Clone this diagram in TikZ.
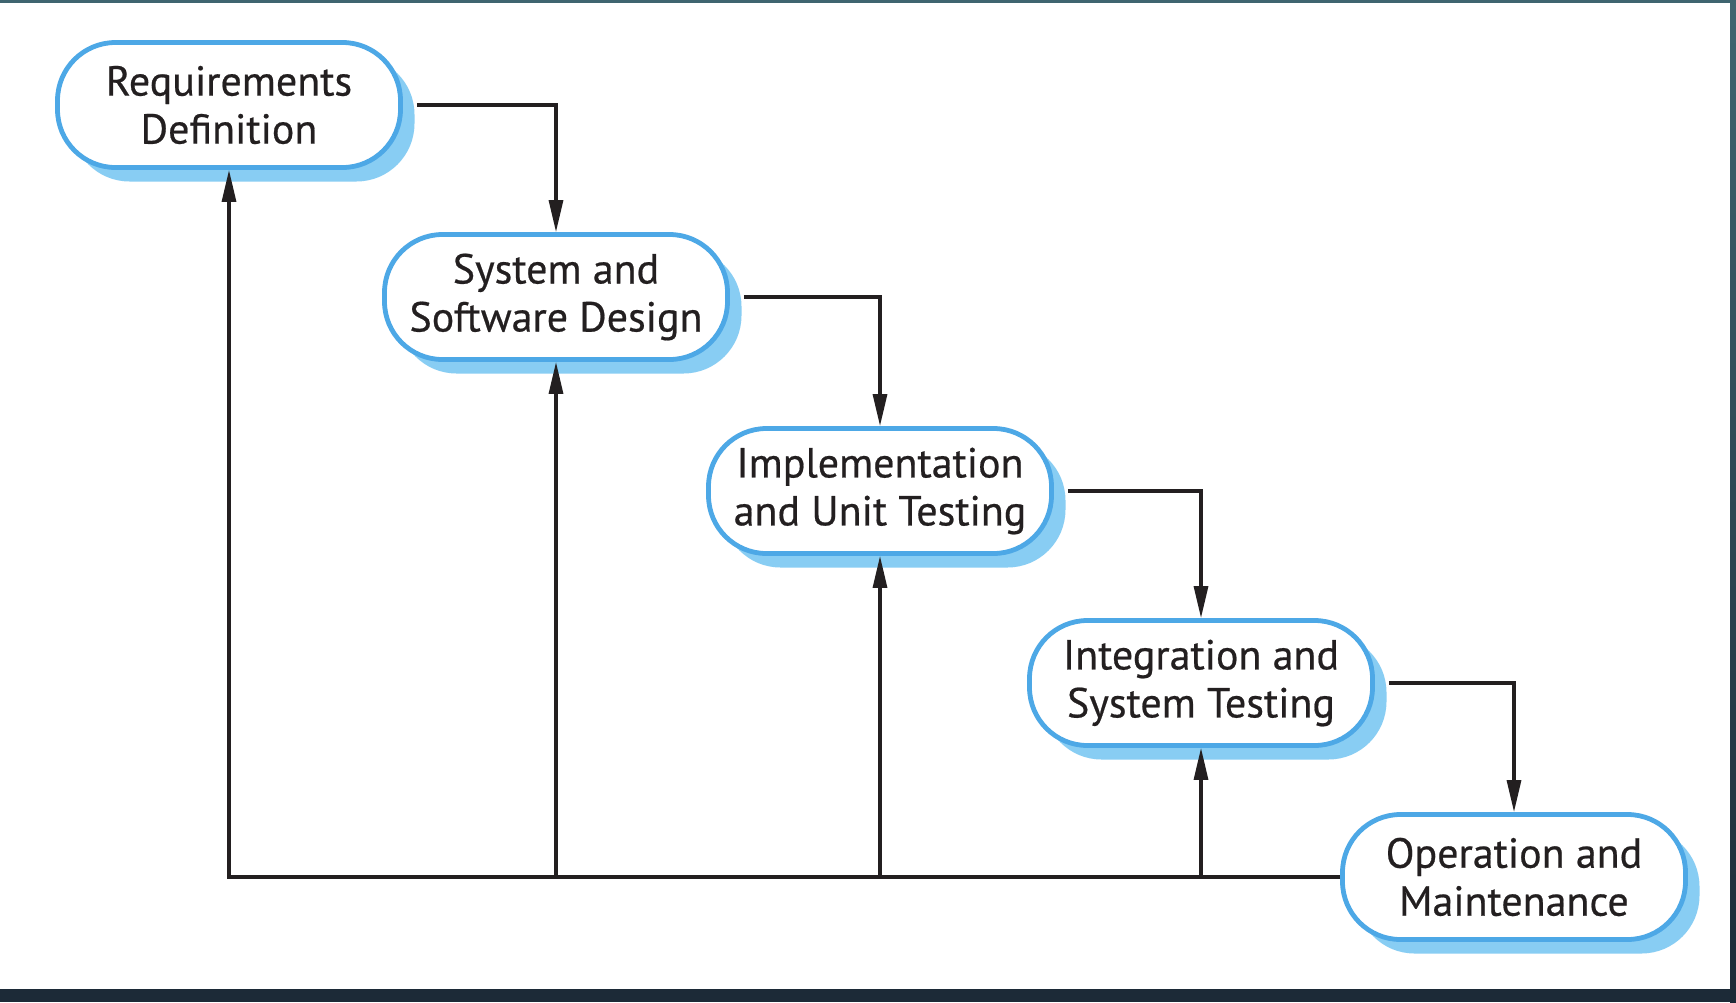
\documentclass[tikz,border=0pt]{standalone}
\usepackage{fontspec}
\setmainfont{PT Sans}
\newfontfamily\phasefont{PT Sans}[FakeBold=0.5]
\usetikzlibrary{arrows.meta,shadows}

\definecolor{boxblue}{HTML}{4DA8E6}
\definecolor{shadeblue}{HTML}{88CDF3}
\definecolor{inkblack}{HTML}{231F20}
\definecolor{frameteal}{HTML}{3F6570}
\definecolor{framenavy}{HTML}{1C2A37}

\tikzset{
  phase/.style={
    draw=boxblue, line width=2.4pt, fill=white,
    rounded corners=29pt, inner sep=0pt,
    minimum width=171.5pt, minimum height=62.5pt,
    align=center, text=inkblack,
    font=\phasefont\fontsize{21pt}{24pt}\selectfont,
    drop shadow={shadow xshift=7pt, shadow yshift=-7pt,
      fill=shadeblue, opacity=1}
  },
  flow/.style={
    draw=inkblack, line width=1.6pt,
    -{Triangle[length=16pt, width=7pt]}
  }
}

\begin{document}
\begin{tikzpicture}[x=0.5pt, y=-0.5pt]
        \useasboundingbox (0,0) rectangle (1736,1002);
        % Page and frame
        \fill[white] (0,0) rectangle (1736,1002);
        \fill[frameteal] (0,0) rectangle (1736,2.5);
        \shade[top color=frameteal, bottom color=framenavy]
          (1730,0) rectangle (1736,1002);
        \fill[framenavy] (0,989) rectangle (1736,1002);

        % Phases
        \node[phase] (req)  at (229,105) {Requirements\\Definition};
        \node[phase] (sys)  at (556,297) {System and\\Software Design};
        \node[phase] (impl) at (880,491) {Implementation\\and Unit Testing};
        \node[phase] (int)  at (1201,683) {Integration and\\System Testing};
        \node[phase] (op)   at (1514,877) {Operation and\\Maintenance};

        % Forward steps
        \draw[flow] ([xshift=7pt]req.east)  -| (sys.north);
        \draw[flow] ([xshift=7pt]sys.east)  -| (impl.north);
        \draw[flow] ([xshift=7pt]impl.east) -| (int.north);
        \draw[flow] ([xshift=7pt]int.east)  -| (op.north);

        % Feedback
        \draw[flow] (op.west) -| (req.south);
        \foreach \p in {sys, impl, int}
          \draw[flow] (\p.south |- op.west) -- (\p.south);
      \end{tikzpicture}
\end{document}
